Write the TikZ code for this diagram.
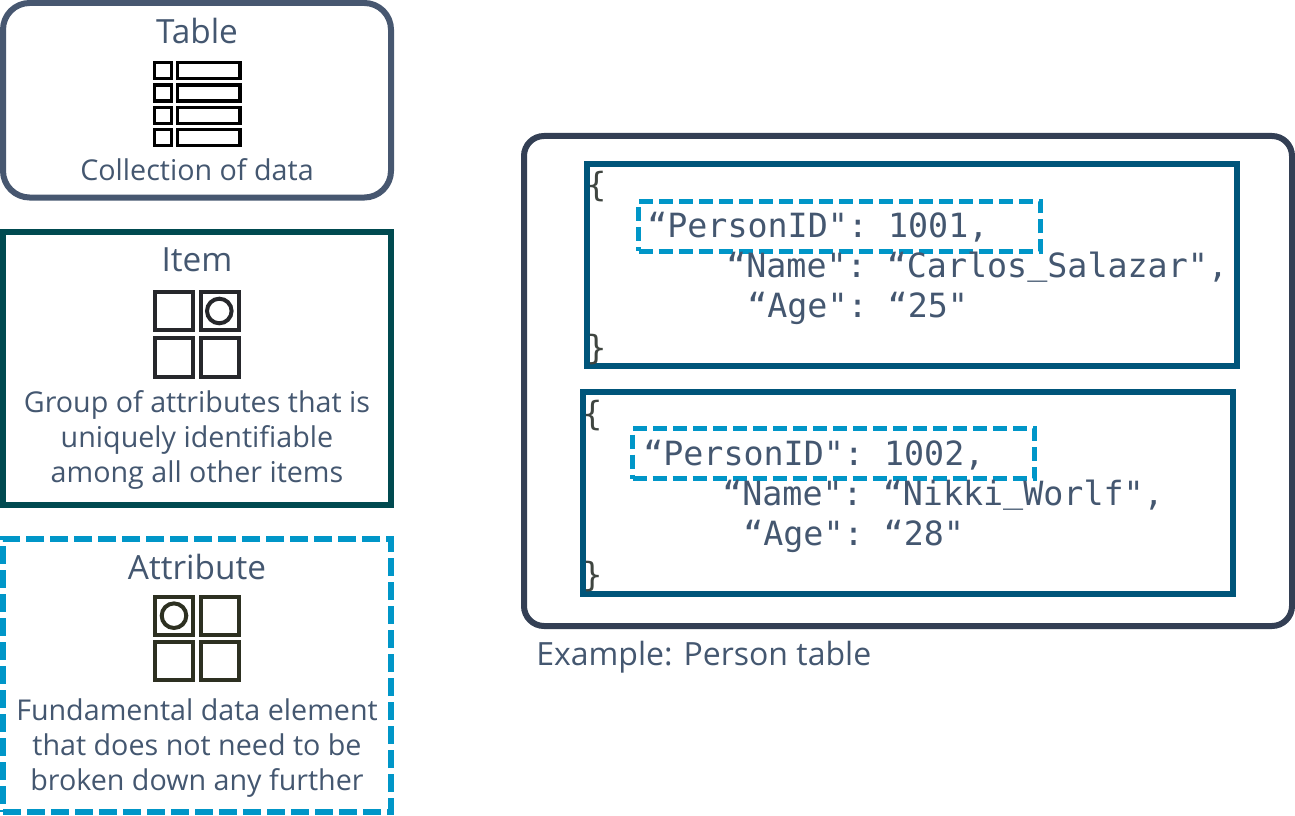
\documentclass[tikz,border=0pt]{standalone}
\usepackage{fontspec}
\setmainfont{Open Sans}
\setmonofont{DejaVu Sans Mono}
\definecolor{slatetxt}{HTML}{445770}
\definecolor{tableedge}{HTML}{475770}
\definecolor{itemedge}{HTML}{004A50}
\definecolor{attredge}{HTML}{0096C8}
\definecolor{outeredge}{HTML}{333F54}
\definecolor{recedge}{HTML}{00557A}
\definecolor{iconA}{HTML}{26272B}
\definecolor{iconB}{HTML}{2D3021}
\definecolor{bracec}{HTML}{3F4540}
\newcommand{\usc}{\raisebox{2.5pt}{\_}}
\tikzset{
  x=0.75pt,y=-0.75pt,
  boxbase/.style={rectangle,inner sep=0pt,outer sep=0pt,line width=4.5pt,fill=white},
  dashbox/.style={boxbase,draw=attredge,dash pattern=on 13.5pt off 4.5pt},
  smalldash/.style={rectangle,inner sep=0pt,outer sep=0pt,line width=3.75pt,draw=attredge,dash pattern=on 10.5pt off 4.5pt},
  lab/.style={text=slatetxt,font=\fontsize{21.5pt}{26.25pt}\selectfont,align=center,inner sep=0pt,anchor=center},
  ttl/.style={text=slatetxt,font=\fontsize{25pt}{28pt}\selectfont,inner sep=0pt,anchor=base},
  code/.style={text=slatetxt,font=\ttfamily\fontsize{25pt}{30pt}\selectfont,inner sep=0pt,anchor=base west},
  brace/.style={text=bracec,font=\ttfamily\fontsize{25pt}{30pt}\selectfont,inner sep=0pt,anchor=base west},
  cell/.style={line width=3pt,fill=white}
}
\begin{document}
\begin{tikzpicture}
\useasboundingbox (0,0) rectangle (1295,816);
% left boxes
\node[boxbase,draw=tableedge,minimum width=291pt,minimum height=145.9pt,rounded corners=20pt] (tablebox) at (197,100.25) {};
\node[boxbase,draw=itemedge,minimum width=291pt,minimum height=204.75pt] (itembox) at (197,368.5) {};
\node[dashbox,minimum width=291pt,minimum height=204.75pt] (attrbox) at (197,675.5) {};
\node[ttl] (tablet) at (197,43.6) {Table};
\node[lab,anchor=base] (tabled) at (197,181) {Collection of data};
\node[ttl] (itemt) at (197,271.7) {Item};
\node[lab] (itemd) at (197,440) {Group of attributes that is\\uniquely identifiable\\among all other items};
\node[ttl] (attrt) at (197,579.8) {Attribute};
\node[lab] (attrd) at (197,748) {Fundamental data element\\that does not need to be\\broken down any further};
% table icon
\foreach \yy in {62.7,85.2,107.7,129.7}{
  \draw[black,line width=2.6pt] (154.7,\yy) rectangle (171.3,\yy+15.6);
  \draw[black,line width=2.6pt] (177.7,\yy) rectangle (240,\yy+15.6);
}
% item icon
\draw[iconA,cell] (155,292) rectangle (193,330);
\draw[iconA,cell] (201,292) rectangle (238.7,330);
\draw[iconA,cell] (155,338) rectangle (193,376.7);
\draw[iconA,cell] (201,338) rectangle (238.7,376.7);
\draw[iconA,line width=3pt] (219.3,311) circle (12.3);
% attribute icon
\draw[iconB,cell] (155,597) rectangle (193,634.7);
\draw[iconB,cell] (201,597) rectangle (238.7,634.7);
\draw[iconB,cell] (155,642) rectangle (193,679.7);
\draw[iconB,cell] (201,642) rectangle (238.7,679.7);
\draw[iconB,line width=3pt] (174,615.7) circle (12.3);
% right
\node[boxbase,draw=outeredge,minimum width=576pt,minimum height=367.5pt,rounded corners=15pt] (person) at (908,381) {};
\node[boxbase,draw=recedge,minimum width=487.5pt,minimum height=151.5pt] (recone) at (912,265) {};
\node[boxbase,draw=recedge,minimum width=487.5pt,minimum height=151.5pt] (rectwo) at (908,493) {};
\node[smalldash,minimum width=301.5pt,minimum height=37.5pt] (pidone) at (839.5,226.5) {};
\node[smalldash,minimum width=301.5pt,minimum height=37.5pt] (pidtwo) at (833.5,453.5) {};
\node[brace] (ob1) at (586,197) {\{};
\node[code] (l11) at (647,237.5) {“PersonID": 1001,};
\node[code] (l12) at (726,277.5) {“Name": “Carlos\usc Salazar",};
\node[code] (l13) at (747,317.5) {“Age": “25"};
\node[brace] (cb1) at (586,359) {\}};
\node[brace] (ob2) at (582,425) {\{};
\node[code] (l21) at (643,465.8) {“PersonID": 1002,};
\node[code] (l22) at (722,505.8) {“Name": “Nikki\usc Worlf",};
\node[code] (l23) at (743,545.8) {“Age": “28"};
\node[brace] (cb2) at (582,586) {\}};
\node[ttl,anchor=base west,font=\fontsize{24pt}{28pt}\selectfont] (cap) at (536,665.3) {Example: Person table};
\end{tikzpicture}
\end{document}
